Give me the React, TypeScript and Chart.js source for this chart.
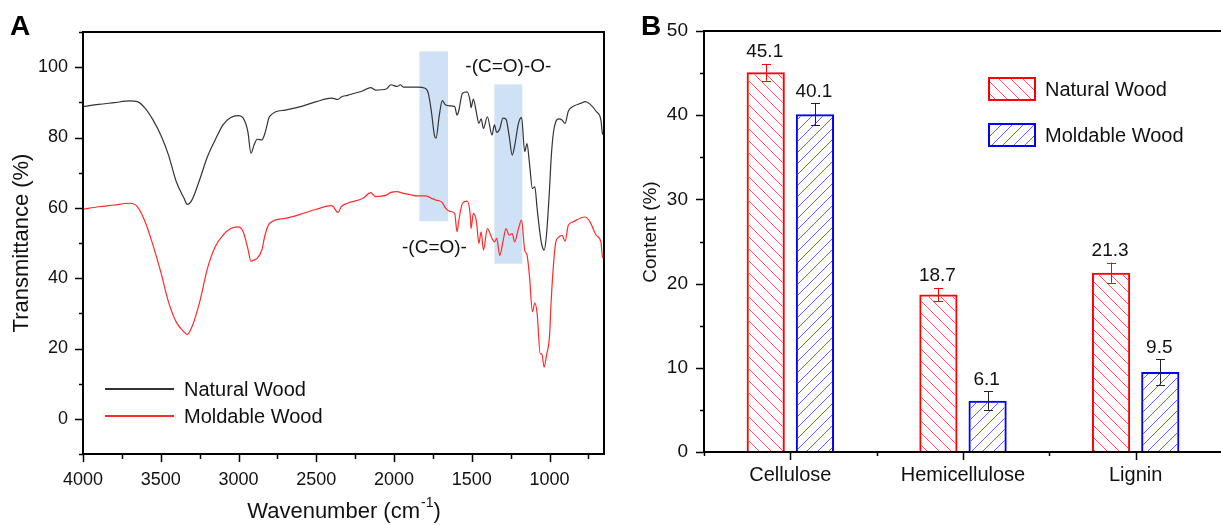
import React, { useEffect, useRef } from 'react';
import { Chart, registerables } from 'chart.js';

Chart.register(...registerables);

const FONT = '"Liberation Sans", Arial, Helvetica, sans-serif';

// ---------- Panel A: FTIR spectra ----------
const wavenumbers = [
  4000, 3900, 3800, 3700, 3650, 3600, 3550, 3500, 3450, 3400, 3350, 3330, 3300, 3250, 3200, 3150, 3100, 3050, 3000, 2970,
  2940, 2920, 2900, 2880, 2850, 2830, 2800, 2700, 2600, 2500, 2400, 2360, 2340, 2300, 2200, 2150, 2120, 2050, 2020, 1980,
  1960, 1940, 1900, 1850, 1800, 1780, 1760, 1740, 1730, 1710, 1690, 1670, 1640, 1610, 1595, 1585, 1560, 1530, 1510, 1505,
  1490, 1470, 1455, 1440, 1425, 1400, 1370, 1355, 1340, 1320, 1300, 1280, 1260, 1240, 1225, 1200, 1180, 1160, 1145, 1130,
  1110, 1095, 1080, 1060, 1050, 1035, 1020, 1000, 990, 975, 960, 940, 920, 900, 880, 850, 800, 770, 740, 700,
  670, 660, 650,
];
const naturalT = [
  88.8, 89.4, 89.9, 90.4, 90.2, 88.3, 85.0, 80.7, 75.0, 67.4, 62.7, 61.0, 62.2, 68.0, 74.5, 79.3, 83.6, 85.7, 86.2, 85.5,
  81.7, 75.5, 77.9, 79.5, 79.3, 81.2, 86.0, 87.8, 88.8, 90.2, 91.2, 90.8, 91.5, 92.0, 93.3, 94.2, 93.5, 93.8, 95.0, 94.5,
  95.0, 94.3, 94.3, 94.3, 94.0, 92.6, 87.4, 80.5, 79.8, 86.0, 90.5, 89.3, 89.0, 88.8, 86.4, 87.4, 92.6, 93.0, 90.2, 88.5,
  90.9, 87.0, 84.0, 85.3, 82.6, 85.9, 80.7, 83.6, 81.5, 82.5, 85.5, 85.2, 80.5, 75.0, 77.5, 84.0, 85.7, 76.0, 78.3, 73.0,
  65.5, 66.0, 59.8, 52.2, 49.5, 48.0, 52.2, 65.5, 74.0, 81.5, 84.5, 85.3, 85.0, 84.0, 87.4, 88.8, 89.7, 90.2, 89.5, 87.4,
  85.0, 81.2, 80.7,
];
const moldableT = [
  59.6, 60.3, 60.8, 61.3, 60.3, 56.0, 49.4, 41.8, 33.2, 27.5, 24.7, 24.0, 26.1, 33.2, 42.7, 48.9, 52.2, 54.1, 54.6, 53.2,
  48.4, 44.8, 45.2, 45.6, 48.0, 52.2, 55.6, 57.0, 58.2, 59.6, 60.6, 58.7, 60.3, 61.3, 62.7, 64.3, 63.2, 63.6, 64.4, 64.6,
  64.4, 64.1, 63.8, 63.4, 63.4, 63.2, 62.7, 62.4, 62.2, 62.0, 61.5, 60.0, 59.0, 58.4, 53.2, 56.0, 61.3, 61.9, 57.9, 54.1,
  58.4, 56.0, 49.9, 53.2, 48.0, 54.1, 51.3, 50.3, 51.3, 46.5, 50.3, 54.1, 52.2, 52.7, 50.3, 54.1, 56.5, 48.0, 46.6, 41.0,
  30.5, 32.9, 30.0, 18.5, 18.5, 14.7, 18.0, 23.7, 33.2, 43.7, 50.3, 51.7, 52.2, 50.5, 55.0, 56.0, 57.1, 57.4, 56.0, 52.2,
  50.3, 46.1, 45.6,
];
const specXTicks = [4000, 3500, 3000, 2500, 2000, 1500, 1000];
const specXMinor = [3750, 3250, 2750, 2250, 1750, 1250, 750];
const specYTicks = [0, 20, 40, 60, 80, 100];
const specYMinor = [-10, 10, 30, 50, 70, 90, 110];
const bandFrom = [1837, 1355];
const bandTo = [1653, 1175];
const bandLow = [56.2, 44.1];
const bandHigh = [104.5, 95.1];
const peakLabels = ['-(C=O)-', '-(C=O)-O-'];
const peakLabelWn = [1740, 1265];
const peakLabelT = [48.6, 100.2];
const seriesNames = ['Natural Wood', 'Moldable Wood'];

// ---------- Panel B: composition ----------
const components = ['Cellulose', 'Hemicellulose', 'Lignin'];
const naturalContent = [45.1, 18.7, 21.3];
const naturalErr = [1.0, 0.8, 1.2];
const moldableContent = [40.1, 6.1, 9.5];
const moldableErr = [1.3, 1.1, 1.5];
const contentTicks = [0, 10, 20, 30, 40, 50];
const contentMinor = [5, 15, 25, 35, 45];

function hatch(color: string, dir: 'back' | 'fwd', size: number): CanvasPattern {
  const c = document.createElement('canvas');
  c.width = size;
  c.height = size;
  const g = c.getContext('2d')!;
  g.strokeStyle = color;
  g.lineWidth = 1;
  g.beginPath();
  for (const k of [-size, 0, size]) {
    if (dir === 'back') {
      g.moveTo(k, 0);
      g.lineTo(k + size, size);
    } else {
      g.moveTo(k, size);
      g.lineTo(k + size, 0);
    }
  }
  g.stroke();
  return g.createPattern(c, 'repeat')!;
}

export default function App() {
  const refA = useRef<HTMLCanvasElement>(null);
  const refB = useRef<HTMLCanvasElement>(null);

  useEffect(() => {
    Chart.defaults.font.family = FONT;
    Chart.defaults.color = '#111';

    const panelA = {
      id: 'panelA',
      beforeDatasetsDraw(chart: any) {
        const { ctx } = chart;
        const xs = chart.scales.x;
        const ys = chart.scales.y;
        ctx.save();
        ctx.fillStyle = '#cfe2f5';
        for (let i = 0; i < bandFrom.length; i++) {
          const x1 = xs.getPixelForValue(bandFrom[i]);
          const x2 = xs.getPixelForValue(bandTo[i]);
          const y1 = ys.getPixelForValue(bandHigh[i]);
          const y2 = ys.getPixelForValue(bandLow[i]);
          ctx.fillRect(x1, y1, x2 - x1, y2 - y1);
        }
        ctx.restore();
      },
      afterDraw(chart: any) {
        const { ctx, chartArea: a } = chart;
        const xs = chart.scales.x;
        const ys = chart.scales.y;
        ctx.save();
        ctx.strokeStyle = '#000';
        ctx.lineWidth = 2;
        ctx.strokeRect(a.left, a.top, a.right - a.left, a.bottom - a.top);
        ctx.lineWidth = 1.5;
        ctx.beginPath();
        for (const v of specXTicks) {
          const p = Math.round(xs.getPixelForValue(v)) + 0.5;
          ctx.moveTo(p, a.bottom);
          ctx.lineTo(p, a.bottom + 8);
        }
        for (const v of specXMinor) {
          const p = Math.round(xs.getPixelForValue(v)) + 0.5;
          ctx.moveTo(p, a.bottom);
          ctx.lineTo(p, a.bottom + 5);
        }
        for (const v of specYTicks) {
          const p = Math.round(ys.getPixelForValue(v)) + 0.5;
          ctx.moveTo(a.left, p);
          ctx.lineTo(a.left - 8, p);
        }
        for (const v of specYMinor) {
          const p = Math.round(ys.getPixelForValue(v)) + 0.5;
          ctx.moveTo(a.left, p);
          ctx.lineTo(a.left - 4, p);
        }
        ctx.stroke();

        // peak annotations
        ctx.fillStyle = '#111';
        ctx.font = `19px ${FONT}`;
        ctx.textAlign = 'center';
        ctx.textBaseline = 'middle';
        for (let i = 0; i < peakLabels.length; i++) {
          ctx.fillText(peakLabels[i], xs.getPixelForValue(peakLabelWn[i]), ys.getPixelForValue(peakLabelT[i]));
        }

        // legend
        const legendColors = ['#333333', '#ff2a2a'];
        const legendY = [389, 416];
        ctx.lineWidth = 2;
        ctx.textAlign = 'left';
        ctx.font = `20px ${FONT}`;
        for (let i = 0; i < 2; i++) {
          ctx.strokeStyle = legendColors[i];
          ctx.beginPath();
          ctx.moveTo(105, legendY[i]);
          ctx.lineTo(174, legendY[i]);
          ctx.stroke();
          ctx.fillStyle = '#111';
          ctx.fillText(seriesNames[i], 184, legendY[i] + 1);
        }

        // x title with superscript
        ctx.font = `22px ${FONT}`;
        const main = 'Wavenumber (cm';
        const tail = ')';
        const wMain = ctx.measureText(main).width;
        const wTail = ctx.measureText(tail).width;
        ctx.font = `14px ${FONT}`;
        const sup = '-1';
        const wSup = ctx.measureText(sup).width;
        const total = wMain + wSup + wTail;
        const cx = (a.left + a.right) / 2;
        const x0 = cx - total / 2;
        const ty = 512;
        ctx.font = `22px ${FONT}`;
        ctx.fillText(main, x0, ty);
        ctx.font = `14px ${FONT}`;
        ctx.fillText(sup, x0 + wMain + 1, ty - 9);
        ctx.font = `22px ${FONT}`;
        ctx.fillText(tail, x0 + wMain + wSup + 1, ty);

        // y title
        ctx.save();
        ctx.translate(21.5, (a.top + a.bottom) / 2);
        ctx.rotate(-Math.PI / 2);
        ctx.textAlign = 'center';
        ctx.fillText('Transmittance (%)', 0, 0);
        ctx.restore();

        // panel letter
        ctx.font = `bold 28px ${FONT}`;
        ctx.textAlign = 'left';
        ctx.textBaseline = 'alphabetic';
        ctx.fillStyle = '#000';
        ctx.fillText('A', 10, 35);
        ctx.restore();
      },
    };

    const chartA = new Chart(refA.current!, {
      type: 'line',
      data: {
        datasets: [
          {
            label: seriesNames[0],
            data: wavenumbers.map((w, i) => ({ x: w, y: naturalT[i] })),
            borderColor: '#333333',
            borderWidth: 1.2,
            pointRadius: 0,
            cubicInterpolationMode: 'monotone',
          },
          {
            label: seriesNames[1],
            data: wavenumbers.map((w, i) => ({ x: w, y: moldableT[i] })),
            borderColor: '#ff2a2a',
            borderWidth: 1.2,
            pointRadius: 0,
            cubicInterpolationMode: 'monotone',
          },
        ],
      },
      options: {
        animation: false,
        responsive: false,
        layout: { padding: { left: 0, top: 32, right: 16, bottom: 0 } },
        plugins: { legend: { display: false }, tooltip: { enabled: false } },
        scales: {
          x: {
            type: 'linear',
            reverse: true,
            min: 650,
            max: 4000,
            grid: { display: false },
            border: { display: false },
            afterBuildTicks: (axis: any) => {
              axis.ticks = specXTicks.map((v) => ({ value: v }));
            },
            afterFit: (axis: any) => {
              axis.height = 71;
            },
            ticks: {
              padding: 7,
              font: { size: 18 },
              color: '#111',
              maxRotation: 0,
              autoSkip: false,
              callback: (v: any) => String(v),
            },
          },
          y: {
            type: 'linear',
            min: -10,
            max: 110,
            grid: { display: false },
            border: { display: false },
            afterBuildTicks: (axis: any) => {
              axis.ticks = specYTicks.map((v) => ({ value: v }));
            },
            afterFit: (axis: any) => {
              axis.width = 83;
            },
            ticks: {
              padding: 7,
              font: { size: 18 },
              color: '#111',
              callback: (v: any) => String(v),
            },
          },
        },
      },
      plugins: [panelA],
    } as any);

    const redPattern = hatch('#ff5a5a', 'back', 12);
    const bluePattern = hatch('#6060ff', 'fwd', 11);

    const panelB = {
      id: 'panelB',
      afterDatasetsDraw(chart: any) {
        const { ctx } = chart;
        const ys = chart.scales.y;
        const vals = [naturalContent, moldableContent];
        const errs = [naturalErr, moldableErr];
        const errColors = ['#ff0000', '#222222'];
        ctx.save();
        for (let d = 0; d < 2; d++) {
          const meta = chart.getDatasetMeta(d);
          meta.data.forEach((bar: any, i: number) => {
            const x = Math.round(bar.x) + 0.5;
            const top = ys.getPixelForValue(vals[d][i] + errs[d][i]);
            const bot = ys.getPixelForValue(vals[d][i] - errs[d][i]);
            ctx.strokeStyle = errColors[d];
            ctx.lineWidth = 1;
            ctx.beginPath();
            ctx.moveTo(x, top);
            ctx.lineTo(x, bot);
            ctx.moveTo(x - 4.5, Math.round(top) + 0.5);
            ctx.lineTo(x + 4.5, Math.round(top) + 0.5);
            ctx.moveTo(x - 4.5, Math.round(bot) + 0.5);
            ctx.lineTo(x + 4.5, Math.round(bot) + 0.5);
            ctx.stroke();
            ctx.fillStyle = '#111';
            ctx.font = `19px ${FONT}`;
            ctx.textAlign = 'center';
            ctx.textBaseline = 'middle';
            ctx.fillText(vals[d][i].toFixed(1), bar.x - 1, top - 12);
          });
        }
        ctx.restore();
      },
      afterDraw(chart: any) {
        const { ctx, chartArea: a } = chart;
        const ys = chart.scales.y;
        const xs = chart.scales.x;
        ctx.save();
        ctx.strokeStyle = '#000';
        ctx.lineWidth = 2;
        ctx.strokeRect(a.left, a.top, a.right - a.left, a.bottom - a.top);
        ctx.lineWidth = 1.5;
        ctx.beginPath();
        for (const v of contentTicks) {
          const p = Math.round(ys.getPixelForValue(v)) + 0.5;
          ctx.moveTo(a.left, p);
          ctx.lineTo(a.left - 8, p);
        }
        for (const v of contentMinor) {
          const p = Math.round(ys.getPixelForValue(v)) + 0.5;
          ctx.moveTo(a.left, p);
          ctx.lineTo(a.left - 4, p);
        }
        const w = (a.right - a.left) / components.length;
        components.forEach((_, i) => {
          const p = Math.round(xs.getPixelForValue(i)) + 0.5;
          ctx.moveTo(p, a.bottom);
          ctx.lineTo(p, a.bottom + 8);
        });
        for (let k = 0; k <= components.length; k++) {
          const p = Math.round(a.left + w * k) + 0.5;
          ctx.moveTo(p, a.bottom);
          ctx.lineTo(p, a.bottom + 4);
        }
        ctx.stroke();

        // legend
        const pats = [redPattern, bluePattern];
        const borders = ['#ff0000', '#0000ff'];
        const boxY = [77, 123];
        ctx.font = `20px ${FONT}`;
        ctx.textAlign = 'left';
        ctx.textBaseline = 'middle';
        for (let i = 0; i < 2; i++) {
          ctx.fillStyle = pats[i];
          ctx.fillRect(368, boxY[i], 48, 24);
          ctx.strokeStyle = borders[i];
          ctx.lineWidth = 2;
          ctx.strokeRect(369, boxY[i] + 1, 46, 22);
          ctx.fillStyle = '#111';
          ctx.fillText(seriesNames[i], 425, boxY[i] + 13);
        }

        // y title
        ctx.save();
        ctx.font = `19px ${FONT}`;
        ctx.translate(31, 232);
        ctx.rotate(-Math.PI / 2);
        ctx.textAlign = 'center';
        ctx.fillText('Content (%)', 0, 0);
        ctx.restore();

        ctx.font = `bold 28px ${FONT}`;
        ctx.textAlign = 'left';
        ctx.textBaseline = 'alphabetic';
        ctx.fillStyle = '#000';
        ctx.fillText('B', 21, 35);
        ctx.restore();
      },
    };

    const chartB = new Chart(refB.current!, {
      type: 'bar',
      data: {
        labels: components,
        datasets: [
          {
            label: seriesNames[0],
            data: naturalContent,
            backgroundColor: redPattern,
            borderColor: '#ff0000',
            borderWidth: 2,
            categoryPercentage: 0.57,
            barPercentage: 0.776,
          },
          {
            label: seriesNames[1],
            data: moldableContent,
            backgroundColor: bluePattern,
            borderColor: '#0000ff',
            borderWidth: 2,
            categoryPercentage: 0.57,
            barPercentage: 0.776,
          },
        ],
      },
      options: {
        animation: false,
        responsive: false,
        layout: { padding: { left: 0, top: 31, right: 18, bottom: 0 } },
        plugins: { legend: { display: false }, tooltip: { enabled: false } },
        scales: {
          x: {
            grid: { display: false },
            border: { display: false },
            afterFit: (axis: any) => {
              axis.height = 73;
            },
            ticks: { padding: 3, font: { size: 20 }, color: '#111', maxRotation: 0 },
          },
          y: {
            min: 0,
            max: 50,
            grid: { display: false },
            border: { display: false },
            afterBuildTicks: (axis: any) => {
              axis.ticks = contentTicks.map((v) => ({ value: v }));
            },
            afterFit: (axis: any) => {
              axis.width = 84;
            },
            ticks: { padding: 8, font: { size: 19 }, color: '#111', callback: (v: any) => String(v) },
          },
        },
      },
      plugins: [panelB],
    } as any);

    return () => {
      chartA.destroy();
      chartB.destroy();
    };
  }, []);

  return (
    <div
      style={{
        position: 'absolute',
        left: 0,
        top: 0,
        width: 1221,
        height: 525,
        overflow: 'hidden',
        background: '#fff',
      }}
    >
      <canvas ref={refA} width={620} height={525} style={{ position: 'absolute', left: 0, top: 0 }} />
      <canvas ref={refB} width={620} height={525} style={{ position: 'absolute', left: 620, top: 0 }} />
    </div>
  );
}
